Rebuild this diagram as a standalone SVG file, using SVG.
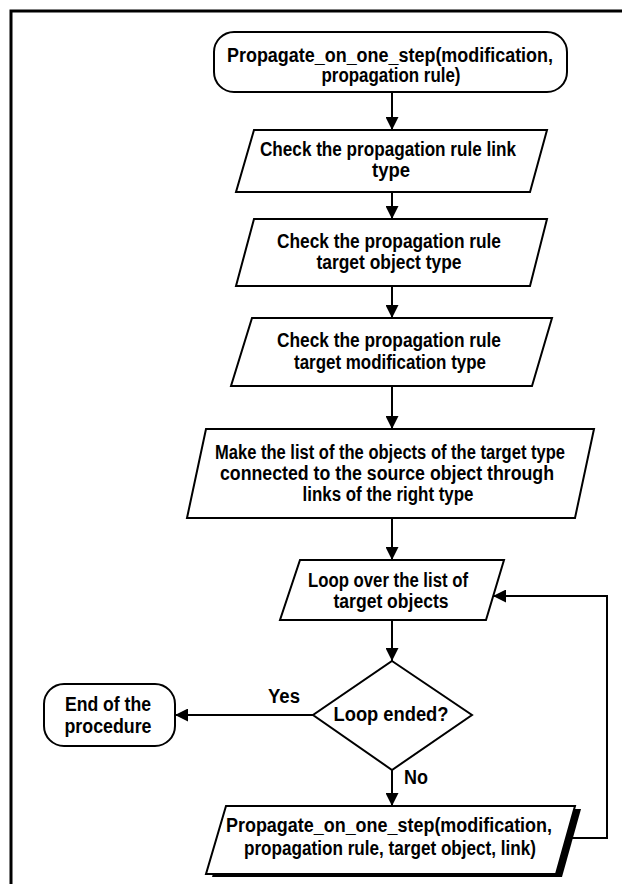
<svg xmlns="http://www.w3.org/2000/svg" width="622" height="884" viewBox="0 0 622 884">
<style>
.s{fill:#fff;stroke:#000;stroke-width:2}
.t{font-family:"Liberation Sans",Arial,sans-serif;font-weight:bold;font-size:20px;fill:#000;text-anchor:middle}
.c{fill:none;stroke:#000;stroke-width:2}
.f{fill:none;stroke:#000;stroke-width:3}
</style>
<defs>
<marker id="ah" markerUnits="userSpaceOnUse" markerWidth="13" markerHeight="13" refX="13" refY="6.5" orient="auto">
<path d="M0,0 L13,6.5 L0,13 Z" fill="#000"/>
</marker>
</defs>
<rect width="622" height="884" fill="#fff"/>
<g id="frame">
<path class="f" d="M11,884 V11 H622"/>
</g>
<g id="connectors">
<path class="c" d="M392,92 V130" marker-end="url(#ah)"/>
<path class="c" d="M392,192 V219" marker-end="url(#ah)"/>
<path class="c" d="M392,286 V318" marker-end="url(#ah)"/>
<path class="c" d="M392,386 V429" marker-end="url(#ah)"/>
<path class="c" d="M392,518 V560" marker-end="url(#ah)"/>
<path class="c" d="M392,620 V661" marker-end="url(#ah)"/>
<path class="c" d="M392,770 V806" marker-end="url(#ah)"/>
<path class="c" d="M313,715 H175" marker-end="url(#ah)"/>
<path class="c" d="M568,838 H607 V596 H493" marker-end="url(#ah)"/>
<text class="t" x="284" y="703" textLength="32" lengthAdjust="spacingAndGlyphs">Yes</text>
<text class="t" x="416" y="784" textLength="24" lengthAdjust="spacingAndGlyphs">No</text>
</g>
<g id="start">
<rect class="s" x="214" y="32" width="353" height="60" rx="20"/>
<text class="t" x="390" y="62" textLength="326" lengthAdjust="spacingAndGlyphs">Propagate_on_one_step(modification,</text>
<text class="t" x="391" y="82" textLength="139" lengthAdjust="spacingAndGlyphs">propagation rule)</text>
</g>
<g id="check-link">
<polygon class="s" points="254,130 547,130 530,192 236,192"/>
<text class="t" x="388" y="156" textLength="256" lengthAdjust="spacingAndGlyphs">Check the propagation rule link</text>
<text class="t" x="391" y="177" textLength="38" lengthAdjust="spacingAndGlyphs">type</text>
</g>
<g id="check-object">
<polygon class="s" points="254,219 547,219 530,286 236,286"/>
<text class="t" x="389" y="248" textLength="224" lengthAdjust="spacingAndGlyphs">Check the propagation rule</text>
<text class="t" x="389" y="269" textLength="145" lengthAdjust="spacingAndGlyphs">target object type</text>
</g>
<g id="check-modification">
<polygon class="s" points="252,318 552,318 532,386 231,386"/>
<text class="t" x="389" y="347" textLength="224" lengthAdjust="spacingAndGlyphs">Check the propagation rule</text>
<text class="t" x="390" y="369" textLength="192" lengthAdjust="spacingAndGlyphs">target modification type</text>
</g>
<g id="make-list">
<polygon class="s" points="206,429 594,429 575,518 187,518"/>
<text class="t" x="390" y="459" textLength="350" lengthAdjust="spacingAndGlyphs">Make the list of the objects of the target type</text>
<text class="t" x="387" y="480" textLength="334" lengthAdjust="spacingAndGlyphs">connected to the source object through</text>
<text class="t" x="388" y="501" textLength="171" lengthAdjust="spacingAndGlyphs">links of the right type</text>
</g>
<g id="loop">
<polygon class="s" points="300,560 504,560 486,620 280,620"/>
<text class="t" x="388" y="587" textLength="160" lengthAdjust="spacingAndGlyphs">Loop over the list of</text>
<text class="t" x="391" y="608" textLength="115" lengthAdjust="spacingAndGlyphs">target objects</text>
</g>
<g id="decision">
<polygon class="s" points="392,661 472,715 392,770 313,715"/>
<text class="t" x="391" y="721" textLength="115" lengthAdjust="spacingAndGlyphs">Loop ended?</text>
</g>
<g id="end">
<rect class="s" x="44" y="684" width="131" height="62" rx="20"/>
<text class="t" x="108" y="711" textLength="86" lengthAdjust="spacingAndGlyphs">End of the</text>
<text class="t" x="108" y="733" textLength="87" lengthAdjust="spacingAndGlyphs">procedure</text>
</g>
<g id="propagate">
<polygon fill="#000" points="232,809 581,809 562,877 212,877"/>
<polygon class="s" points="226,806 575,806 556,874 206,874"/>
<text class="t" x="389" y="832" textLength="326" lengthAdjust="spacingAndGlyphs">Propagate_on_one_step(modification,</text>
<text class="t" x="390" y="855" textLength="292" lengthAdjust="spacingAndGlyphs">propagation rule, target object, link)</text>
</g>
</svg>
